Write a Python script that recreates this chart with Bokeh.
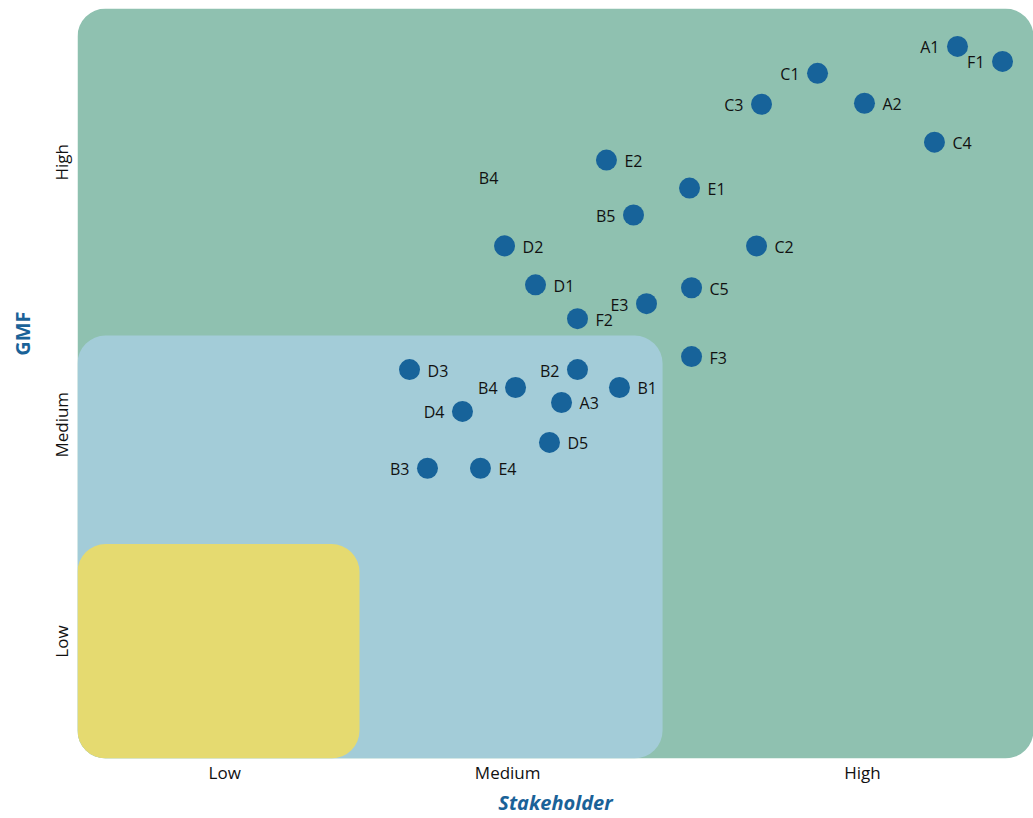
from bokeh.plotting import figure
from bokeh.models import ColumnDataSource, Range1d, FixedTicker, Title
from bokeh.core.properties import value
from bokeh.embed import file_html
from bokeh.resources import INLINE

# ---- data (0-100 scale on both axes) ----
names = ["A1", "F1", "C1", "C3", "A2", "C4", "E2", "E1", "B5", "D2", "C2",
         "D1", "C5", "E3", "F2", "F3", "D3", "B2", "B4", "B1", "A3", "D4",
         "D5", "B3", "E4"]
stakeholder = [92.05, 96.76, 77.41, 71.55, 82.32, 89.64, 55.33, 64.02, 58.16,
               44.67, 71.03, 47.91, 64.23, 59.52, 52.30, 64.23, 34.73, 52.30,
               45.82, 56.69, 50.63, 40.27, 49.37, 36.61, 42.15]
gmf = [94.95, 92.95, 91.36, 87.23, 87.37, 82.18, 79.79, 76.06, 72.47, 68.35,
       68.35, 63.16, 62.77, 60.64, 58.64, 53.59, 51.86, 51.86, 49.47, 49.47,
       47.47, 46.28, 42.15, 38.70, 38.70]
label_side = ["L", "L", "L", "L", "R", "R", "R", "R", "L", "R", "R",
              "R", "R", "L", "R", "R", "R", "L", "L", "R", "R", "L",
              "R", "L", "R"]

# label without a marker
free_labels = ["B4"]
free_x = [43.0]
free_y = [77.4]

# zones: High / Medium / Low
zone_names = ["High", "Medium", "Low"]
zone_stakeholder_max = [100, 61.2, 29.5]
zone_gmf_max = [100, 56.4, 28.6]
zone_colors = ["#8fc1b0", "#a3ccd8", "#e5da70"]

x_ticks = [15.4, 45.0, 82.1]
x_tick_labels = ["Low", "Medium", "High"]
y_ticks = [15.6, 44.5, 79.5]
y_tick_labels = ["Low", "Medium", "High"]

x_title = "Stakeholder"
y_title = "GMF"

FONT = "Open Sans"
DOT = "#17639a"
TITLE_BLUE = "#1a6298"

p = figure(width=1033, height=818, output_backend="svg", toolbar_location=None,
           x_range=Range1d(0, 100), y_range=Range1d(0, 100),
           min_border_left=77, min_border_top=8, min_border_right=0,
           min_border_bottom=58)
p.outline_line_color = None
p.grid.visible = False

zones = ColumnDataSource(dict(right=zone_stakeholder_max, top=zone_gmf_max,
                              color=zone_colors, name=zone_names))
p.quad(left=0, bottom=0, right="right", top="top", fill_color="color",
       line_color=None, border_radius=28, source=zones)

pts = ColumnDataSource(dict(x=stakeholder, y=gmf, name=names))
p.scatter("x", "y", size=21, fill_color=DOT, line_color=None, source=pts)

left_src = ColumnDataSource(dict(
    x=[x for x, s in zip(stakeholder, label_side) if s == "L"],
    y=[y for y, s in zip(gmf, label_side) if s == "L"],
    t=[n for n, s in zip(names, label_side) if s == "L"]))
right_src = ColumnDataSource(dict(
    x=[x for x, s in zip(stakeholder, label_side) if s == "R"],
    y=[y for y, s in zip(gmf, label_side) if s == "R"],
    t=[n for n, s in zip(names, label_side) if s == "R"]))
free_src = ColumnDataSource(dict(x=free_x, y=free_y, t=free_labels))

common = dict(text="t", text_font=value(FONT), text_font_size="16px",
              text_color="#111111", text_baseline="middle")
p.text("x", "y", source=left_src, text_align="right", x_offset=-18, y_offset=1, **common)
p.text("x", "y", source=right_src, text_align="left", x_offset=18, y_offset=1, **common)
p.text("x", "y", source=free_src, text_align="center", **common)

# axes
for ax in (p.xaxis[0], p.yaxis[0]):
    ax.axis_line_color = None
    ax.major_tick_line_color = None
    ax.minor_tick_line_color = None
    ax.major_label_text_font = FONT
    ax.major_label_text_font_size = "17px"
    ax.major_label_text_color = "#111111"

p.xaxis.ticker = FixedTicker(ticks=x_ticks)
p.xaxis.major_label_overrides = {t: l for t, l in zip(x_ticks, x_tick_labels)}
p.xaxis.major_label_standoff = -4
p.xaxis.axis_label = x_title
p.xaxis.axis_label_text_font = FONT
p.xaxis.axis_label_text_font_style = "bold italic"
p.xaxis.axis_label_text_font_size = "20px"
p.xaxis.axis_label_text_color = TITLE_BLUE
p.xaxis.axis_label_standoff = 2

p.yaxis.ticker = FixedTicker(ticks=y_ticks)
p.yaxis.major_label_overrides = {t: l for t, l in zip(y_ticks, y_tick_labels)}
p.yaxis.major_label_orientation = "vertical"
p.yaxis.major_label_standoff = -1

gmf_title = Title(text=y_title, align="right", offset=303, vertical_align="top",
                  standoff=17, text_font=FONT, text_font_size="20px",
                  text_font_style="bold", text_color=TITLE_BLUE)
p.add_layout(gmf_title, "left")

open("out.html", "w").write(file_html(p, INLINE))
